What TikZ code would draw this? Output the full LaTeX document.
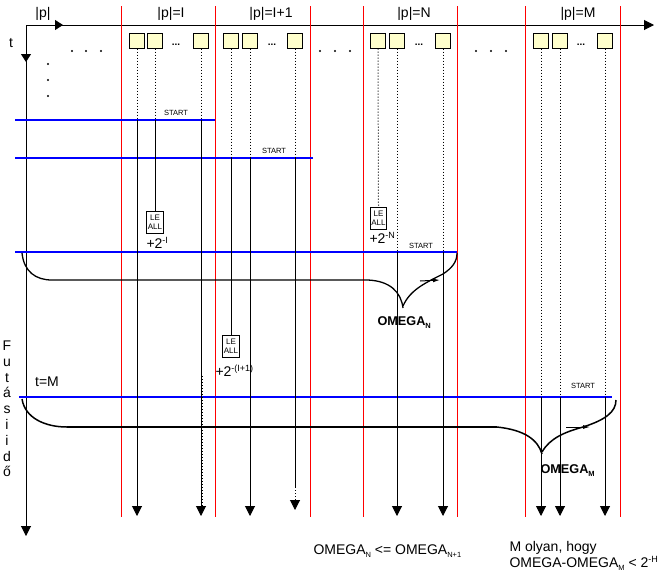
\documentclass[tikz,border=0pt]{standalone}
\usepackage{fontspec}
\setmainfont{Liberation Sans}
\usetikzlibrary{arrows.meta,positioning}
\definecolor{procyellow}{RGB}{255,255,204}
\newcommand{\lowidx}[1]{\raisebox{-3pt}{\fontsize{7.5}{7.5}\selectfont #1}}
\newcommand{\highidx}[1]{\raisebox{5pt}{\fontsize{9}{9}\selectfont #1}}

\begin{document}
\begin{tikzpicture}[x=1pt,y=-1pt,line width=1pt,>={Triangle[length=10pt,width=10pt]},
 proc/.style={draw,fill=procyellow,minimum size=15pt,inner sep=0pt},
 leall/.style={draw,fill=white,align=center,font=\fontsize{8}{9}\selectfont,minimum width=16pt,minimum height=22pt,inner sep=1pt},
 sep/.style={red},
 blueln/.style={blue,line width=1.2pt},
 dotln/.style={dash pattern=on 1pt off 2pt},
 startlbl/.style={font=\fontsize{7.5}{8}\selectfont,inner sep=0pt},
 lbl/.style={font=\fontsize{14}{16}\selectfont,inner sep=0pt},
 omg/.style={font=\fontsize{12.7}{14}\selectfont\bfseries,inner sep=0pt}]
 \useasboundingbox (0,0) rectangle (668,584);
 % axes
 \coordinate (o) at (26,25);
 \draw[-{Triangle[length=8pt,width=10pt]}] (o) -- (63,25);
 \draw[->] (o) -- (654,25);
 \draw[-{Triangle[length=8pt,width=10pt]}] (o) -- (26,62);
 \draw[->] (o) -- (26,536);
 \node[lbl] (plab) at (43,14) {|p|};
 \node[lbl] (tlab) at (11,43) {t};
 % group borders
 \foreach \x in {121,215,310,363,457,525,620}
  \draw[sep] (\x,6) -- (\x,517);
 \node[lbl] (gI) at (171,14) {|p|=I};
 \node[lbl] (gJ) at (271,14) {|p|=I+1};
 \node[lbl] (gN) at (414,14) {|p|=N};
 \node[lbl] (gM) at (578,14) {|p|=M};
 % programs
 \foreach \n/\x in {i1/137,i2/155,i3/201,j1/231,j2/250,j3/295,n1/378,n2/397,n3/443,m1/541,m2/560,m3/605}
  \node[proc] (\n) at (\x,40.5) {};
 \foreach \x in {176,272,419,581}
  \node[font=\fontsize{10}{10}\selectfont\bfseries,inner sep=0pt] at (\x,45) {...};
 \foreach \x in {72,86,101,320,335,350,476,491,506}
  \fill (\x,51) circle (1.2pt);
 \foreach \y in {64,80,96}
  \fill (48,\y) circle (1.2pt);
 % start times
 \coordinate (s1) at (15,120); \coordinate (s1e) at (215,120);
 \coordinate (s2) at (15,158); \coordinate (s2e) at (313,158);
 \coordinate (s3) at (15,252); \coordinate (s3e) at (457,252);
 \coordinate (s4) at (19,397); \coordinate (s4e) at (612,397);
 \coordinate (bot) at (0,516);
 \draw[blueln] (s1) -- (s1e);
 \draw[blueln] (s2) -- (s2e);
 \draw[blueln] (s3) -- (s3e);
 \draw[blueln] (s4) -- (s4e);
 \node[startlbl] (st1) at (176,113) {START};
 \node[startlbl] (st2) at (274,151) {START};
 \node[startlbl] (st3) at (421,246) {START};
 \node[startlbl] (st4) at (583,386) {START};
 \node[lbl] (tM) at (47,382) {t=M};
 % runs
 \foreach \b/\s in {i1/s1,i3/s1,j2/s2,j3/s2,n2/s3,n3/s3,m1/s4,m2/s4,m3/s4}
  \draw[dotln] (\b.south) -- (\b.south |- \s);
 \foreach \b/\s in {i1/s1,i3/s1,j2/s2,n2/s3,n3/s3,m1/s4,m2/s4,m3/s4}
  \draw[->] (\b.south |- \s) -- (\b.south |- bot);
 \draw (j3.south |- s2) -- (j3.south |- 0,487);
 \draw[dotln,->] (j3.south |- 0,487) -- (j3.south |- 0,510);
 \draw[dotln] ([xshift=1.5pt]i3.south |- 0,376) -- ([xshift=1.5pt]i3.south |- 0,506);
 % halting programs
 \node[leall] (leI) at (155,222) {LE\\ALL};
 \draw[dotln] (i2.south) -- (i2.south |- s1);
 \draw (i2.south |- s1) -- (leI.north);
 \node[lbl,anchor=west] (pI) at (146,243) {+2\highidx{-I}};
 \node[leall] (leJ) at (231,346.5) {LE\\ALL};
 \draw[dotln] (j1.south) -- (j1.south |- s2);
 \draw (j1.south |- s2) -- (leJ.north);
 \node[lbl,anchor=west] (pJ) at (215,371) {+2\highidx{-(I+1)}};
 \node[leall] (leN) at (378.5,218.5) {LE\\ALL};
 \draw[dotln] (n1.south) -- (leN.north);
 \node[lbl,anchor=west] (pN) at (369,238) {+2\highidx{-N}};
 % braces
 \draw[line width=1.3pt] (22,253) .. controls (24,272) and (36,280) .. (52,280) -- (368,280)
  .. controls (390,281) and (401,292) .. (403,308);
 \draw[line width=1.3pt] (403,306) .. controls (410,290) and (425,283) .. (443,274)
  .. controls (452,268) and (457,262) .. (457,253);
 \draw[-{Latex[length=7pt,width=4pt]}] (420,281) -- (440,280);
 \node[omg,anchor=west] (omN) at (377,323) {OMEGA\lowidx{N}};
 \draw[line width=1.5pt] (22,399) .. controls (25,418) and (45,427) .. (67,427);
 \draw[line width=2.5pt] (67,427) -- (497,427);
 \draw[line width=1.5pt] (497,427) .. controls (525,430) and (538,440) .. (542,454);
 \draw[line width=1.5pt] (542,452) .. controls (550,438) and (565,432) .. (583,427)
  .. controls (605,420) and (616,412) .. (616,400);
 \draw[-{Latex[length=7pt,width=4pt]}] (566,427) -- (590,427);
 \node[omg,anchor=west] (omM) at (540,471) {OMEGA\lowidx{M}};
 % texts
 \node[lbl,align=center,font=\fontsize{14}{15.8}\selectfont] (fut) at (7,409) {F\\u\\t\\á\\s\\i\\i\\d\\ő};
 \node[lbl,anchor=west] (ineq) at (313,551) {OMEGA\lowidx{N} <= OMEGA\lowidx{N+1}};
 \node[lbl,anchor=north west,align=left] (cond) at (509,541) {M olyan, hogy\\OMEGA-OMEGA\lowidx{M} < 2\highidx{-H}};
\end{tikzpicture}
\end{document}
